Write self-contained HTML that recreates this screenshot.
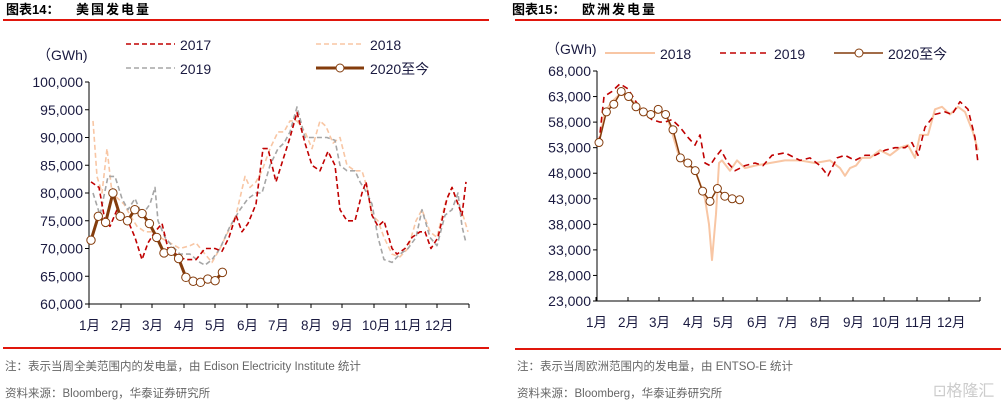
<!DOCTYPE html>
<html><head><meta charset="utf-8"><style>
html,body{margin:0;padding:0;background:#fff;width:1005px;height:405px;overflow:hidden}
svg text{font-family:"Liberation Sans","Noto Sans CJK SC",sans-serif}
</style></head><body>
<svg id="s" width="1005" height="405" viewBox="0 0 1005 405" xmlns="http://www.w3.org/2000/svg">
<g font-weight="bold" font-size="13" fill="#000">
<text x="6" y="14" font-family="'Liberation Sans','Noto Serif CJK SC',serif">图表14：</text>
<text x="76" y="14" font-family="'Noto Serif CJK SC',serif" letter-spacing="2">美国发电量</text>
<text x="512" y="14" font-family="'Liberation Sans','Noto Serif CJK SC',serif">图表15：</text>
<text x="582" y="14" font-family="'Noto Serif CJK SC',serif" letter-spacing="2">欧洲发电量</text>
</g>
<rect x="3" y="19" width="486" height="2" fill="#e0160c"/>
<rect x="515" y="19" width="486" height="2" fill="#e0160c"/>
<rect x="3" y="347" width="486" height="2" fill="#e0160c"/>
<rect x="515" y="348" width="486" height="2" fill="#e0160c"/>
<g font-size="11.5" fill="#666" font-family="'Liberation Sans','Noto Serif CJK SC',sans-serif">
<text x="5" y="370">注：表示当周全美范围内的发电量，由 Edison Electricity Institute 统计</text>
<text x="5" y="397">资料来源：Bloomberg，华泰证券研究所</text>
<text x="517" y="370">注：表示当周欧洲范围内的发电量，由 ENTSO-E 统计</text>
<text x="517" y="397">资料来源：Bloomberg，华泰证券研究所</text>
</g>
<text x="933" y="396" font-size="16" fill="#ccc" font-family="'Noto Sans CJK SC',sans-serif">⊡格隆汇</text>
<g id="L"></g><g id="R"></g>
</svg>
<script>
const NS="http://www.w3.org/2000/svg";
function el(p,t,a,txt){const e=document.createElementNS(NS,t);for(const k in a)e.setAttribute(k,a[k]);if(txt!=null)e.textContent=txt;p.appendChild(e);return e;}
function pairs(s){return s.trim().split(/,\s*/).map(p=>p.split(':').map(Number));}
const L=document.getElementById('L'),R=document.getElementById('R');
(function(){
const x0=89,x1=469,yT=82,yB=304;
const Y=v=>yB-(v-60)/40*(yB-yT);
el(L,'line',{x1:x0,y1:yT,x2:x0,y2:yB,stroke:'#000'});
el(L,'line',{x1:x0,y1:yB,x2:x1,y2:yB,stroke:'#000'});
for(let v=60;v<=100;v+=5){const y=Y(v);el(L,'line',{x1:x0-4,y1:y,x2:x0,y2:y,stroke:'#000'});
el(L,'text',{x:x0-6,y:y+5,'text-anchor':'end','font-size':'14',fill:'#1a1a40'},(v*1000).toLocaleString('en-US'));}
const tx=[89,121,152,184,215,247,278,311,342,374,406,437,469];
const ml=['1月','2月','3月','4月','5月','6月','7月','8月','9月','10月','11月','12月'];
tx.forEach(x=>el(L,'line',{x1:x,y1:yB,x2:x,y2:yB+4,stroke:'#000'}));
ml.forEach((m,i)=>el(L,'text',{x:tx[i]+(i>=9?-12:-10),y:330,'font-size':'13.5',fill:'#1a1a40'},m));
function pl(s,st){const pts=pairs(s).map(([x,v])=>x+','+Y(v).toFixed(1)).join(' ');el(L,'polyline',Object.assign({points:pts,fill:'none','stroke-linejoin':'round'},st));}
const d18="93:93, 97:83, 102:80, 107:88, 112:80, 118:79, 124:78, 130:76, 137:74, 145:73, 152:73, 160:72, 170:71, 180:70, 190:70.5, 196:71, 205:69, 212:67.5, 220:70, 228:73, 236:76, 245:83, 250:81, 256:82, 262:84, 270:88, 278:91, 284:91, 290:93, 297:93, 305:91, 312:88, 320:93, 326:92, 333:89, 340:90, 347:85, 355:84, 362:84, 367:81, 372:76, 378:75, 384:72, 392:69, 400:68.5, 408:70, 416:75, 422:77, 430:73, 437:72, 445:78, 452:81, 458:78, 463:76, 468:73";
const d19="93:80, 100:76, 108:83, 115:83, 122:79, 128:77, 135:79, 142:76, 150:78, 155:81, 158:75, 165:72, 172:70.5, 180:69, 190:69, 200:67.5, 205:67, 212:68, 220:70, 230:74, 240:77, 248:79, 256:80, 262:80, 270:85, 278:88, 284:89, 290:91, 297:95.5, 305:90, 312:90, 320:90, 327:90, 335:89.5, 340:85, 347:84, 355:84, 360:82, 367:80, 372:78, 378:72, 384:68, 392:67.5, 400:69, 408:70, 416:72, 422:77, 430:72, 437:70.5, 445:76, 452:77, 458:80, 462:74, 466:71";
const d17="91:82, 99:81, 105:75, 110:74, 117:77, 122:76, 128:75, 135:72, 142:68, 148:71, 155:73, 162:74.5, 168:70, 176:69, 185:68, 196:68, 205:70, 215:70, 222:69.5, 229:72, 236:76, 242:73, 248:74.5, 256:78, 263:88, 268:88, 276:82, 283:86, 290:90, 297:94.5, 305:89, 312:85, 320:84, 328:87.5, 335:85, 340:77, 347:75, 355:75, 362:80, 366:82, 372:76, 378:74, 384:75, 392:70, 397:69, 405:70, 412:72, 420:73, 425:73, 431:70, 438:72, 447:79, 452:81, 458:78, 462:76, 466:82";
pl(d18,{stroke:'#f8c6a4','stroke-width':1.6,'stroke-dasharray':'5,3'});
pl(d19,{stroke:'#a6a6a6','stroke-width':1.6,'stroke-dasharray':'5,3'});
pl(d17,{stroke:'#c00000','stroke-width':1.6,'stroke-dasharray':'5,3'});
const d20=[71.5,75.8,74.7,80,75.8,75,77,76.3,74.5,72,69.2,69.5,68.2,64.8,64.1,63.9,64.5,64.2,65.7];
const sp=7.3;
el(L,'polyline',{points:d20.map((v,i)=>(x0+2+i*sp).toFixed(1)+','+Y(v).toFixed(1)).join(' '),fill:'none',stroke:'#843c0c','stroke-width':3});
d20.forEach((v,i)=>el(L,'circle',{cx:x0+2+i*sp,cy:Y(v),r:4.2,fill:'#fff',stroke:'#843c0c','stroke-width':1}));
el(L,'text',{x:37,y:60,'font-size':'14',fill:'#1a1a40'},'（GWh)');
el(L,'line',{x1:126,y1:44,x2:175,y2:44,stroke:'#c00000','stroke-width':1.6,'stroke-dasharray':'5,3'});
el(L,'text',{x:180,y:50,'font-size':'14',fill:'#1a1a40'},'2017');
el(L,'line',{x1:316,y1:44,x2:364,y2:44,stroke:'#f8c6a4','stroke-width':1.6,'stroke-dasharray':'5,3'});
el(L,'text',{x:370,y:50,'font-size':'14',fill:'#1a1a40'},'2018');
el(L,'line',{x1:126,y1:68,x2:175,y2:68,stroke:'#a6a6a6','stroke-width':1.6,'stroke-dasharray':'5,3'});
el(L,'text',{x:180,y:74,'font-size':'14',fill:'#1a1a40'},'2019');
el(L,'line',{x1:316,y1:68,x2:364,y2:68,stroke:'#843c0c','stroke-width':3});
el(L,'circle',{cx:340,cy:68,r:4,fill:'#fff',stroke:'#843c0c'});
el(L,'text',{x:370,y:74,'font-size':'14',fill:'#1a1a40'},'2020至今');
})();
(function(){
const x0=597,x1=980,yT=71,yB=301;
const Y=v=>yT+(68-v)/45*(yB-yT);
el(R,'line',{x1:x0,y1:yT,x2:x0,y2:yB,stroke:'#000'});
el(R,'line',{x1:x0,y1:yB,x2:x1,y2:yB,stroke:'#000'});
for(let v=23;v<=68;v+=5){const y=Y(v);el(R,'line',{x1:x0-4,y1:y,x2:x0,y2:y,stroke:'#000'});
el(R,'text',{x:x0-6,y:y+5,'text-anchor':'end','font-size':'14',fill:'#1a1a40'},(v*1000).toLocaleString('en-US'));}
const tx=[596,628,659,693,723,757,787,820,853,884,917,949,980];
const ml=['1月','2月','3月','4月','5月','6月','7月','8月','9月','10月','11月','12月'];
tx.forEach(x=>el(R,'line',{x1:x,y1:yB-4,x2:x,y2:yB,stroke:'#000'}));
ml.forEach((m,i)=>el(R,'text',{x:tx[i]+(i>=9?-12:-10),y:327,'font-size':'13.5',fill:'#1a1a40'},m));
function pl(s,st){const pts=pairs(s).map(([x,v])=>x+','+Y(v).toFixed(1)).join(' ');el(R,'polyline',Object.assign({points:pts,fill:'none','stroke-linejoin':'round'},st));}
const d18="599:54, 605:60, 612:62, 620:63.5, 628:63, 636:61.5, 645:60, 652:59.5, 660:60, 667:59, 672:56, 678:52, 686:49.5, 694:49, 700:46, 705:43, 709:38, 712:31, 716:40, 719:50, 722:50.5, 730:48.5, 737:50.5, 745:49, 755:49.5, 770:50, 785:50.5, 800:50.5, 815:50, 830:50.5, 840:49, 845:47.5, 850:49, 856:49.5, 862:51, 870:51, 880:52.5, 890:51.5, 900:53, 908:53.5, 915:51, 920:55.5, 928:55.5, 935:60.5, 942:61, 950:59.5, 958:61, 965:60, 973:56, 978:52.5";
const d19="599:54, 604:63, 612:64, 620:65.5, 628:64.5, 636:62, 645:59.5, 652:58.5, 660:58, 665:58, 672:58.5, 680:57, 688:55, 695:53.5, 700:55.5, 705:50, 710:49.5, 715:51, 721:52.5, 728:50, 735:48.5, 745:49.5, 755:50, 763:49.5, 772:51.5, 785:52, 800:50.5, 810:51, 820:49.5, 828:47.5, 837:51, 845:51.5, 855:50.5, 865:51.5, 875:51.5, 885:52.5, 895:53, 905:53, 912:54, 918:51.5, 925:57, 935:59.5, 945:60, 952:59.5, 960:62, 968:60.5, 975:55, 978:50";
pl(d18,{stroke:'#f8c6a4','stroke-width':2});
pl(d19,{stroke:'#c00000','stroke-width':1.6,'stroke-dasharray':'6,4'});
const d20=[54,60,61.5,64,63,61,60,59.5,60.5,59.5,56.5,51,50,48.5,44.5,42.5,45,43.5,43,42.8];
const sp=7.4;
el(R,'polyline',{points:d20.map((v,i)=>(599+i*sp).toFixed(1)+','+Y(v).toFixed(1)).join(' '),fill:'none',stroke:'#843c0c','stroke-width':1.5});
d20.forEach((v,i)=>el(R,'circle',{cx:599+i*sp,cy:Y(v),r:4,fill:'#fff',stroke:'#843c0c','stroke-width':1}));
el(R,'text',{x:546,y:54,'font-size':'14',fill:'#1a1a40'},'（GWh)');
el(R,'line',{x1:605,y1:53,x2:655,y2:53,stroke:'#f8c6a4','stroke-width':2});
el(R,'text',{x:660,y:59,'font-size':'14',fill:'#1a1a40'},'2018');
el(R,'line',{x1:720,y1:53,x2:768,y2:53,stroke:'#c00000','stroke-width':1.6,'stroke-dasharray':'6,4'});
el(R,'text',{x:774,y:59,'font-size':'14',fill:'#1a1a40'},'2019');
el(R,'line',{x1:834,y1:53,x2:883,y2:53,stroke:'#843c0c','stroke-width':1.5});
el(R,'circle',{cx:859,cy:53,r:4,fill:'#fff',stroke:'#843c0c'});
el(R,'text',{x:888,y:59,'font-size':'14',fill:'#1a1a40'},'2020至今');
})();
</script>
</body></html>
